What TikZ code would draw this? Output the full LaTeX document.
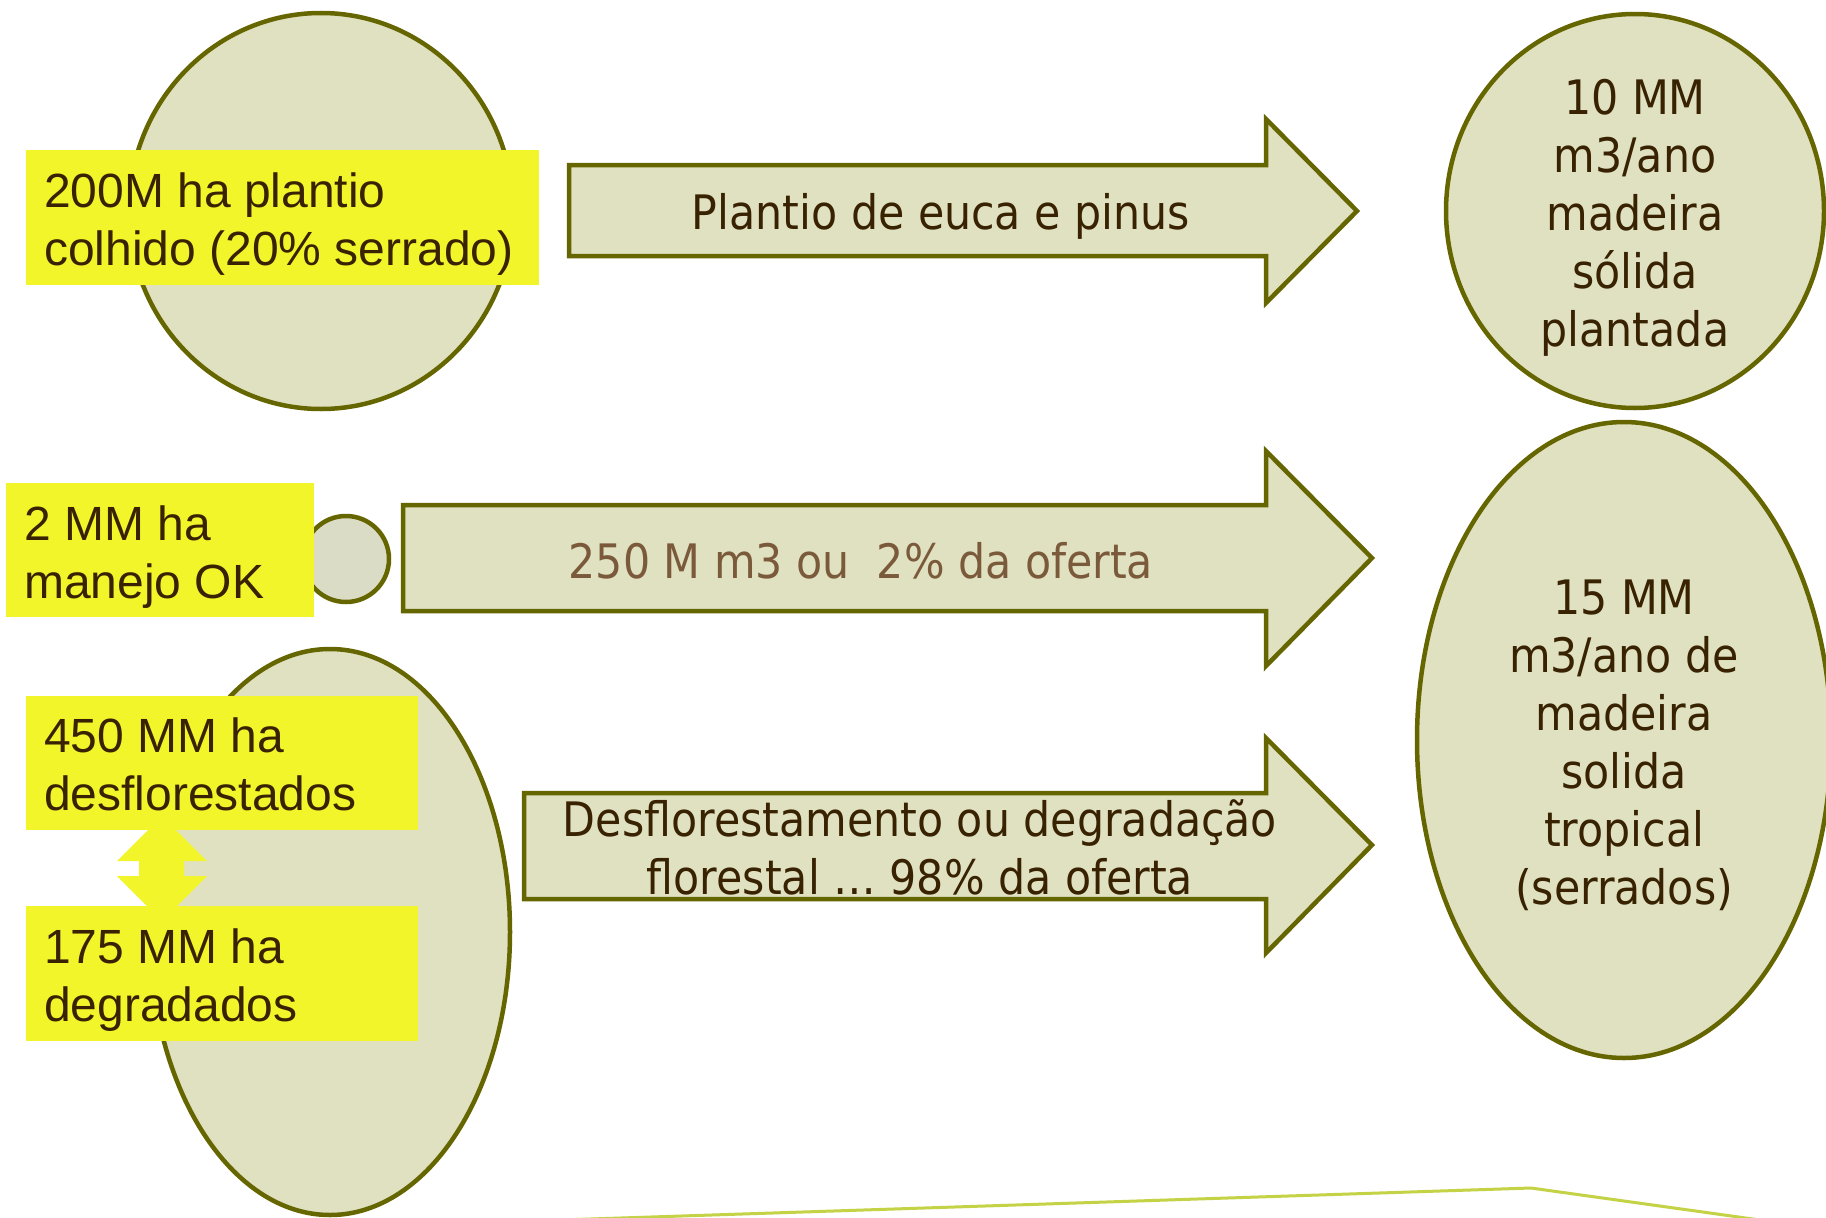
\documentclass[tikz,border=0pt]{standalone}
\usepackage{fontspec}
\setmainfont{Liberation Sans}
\newfontfamily\tahoma{DejaVu Sans Condensed}
\usetikzlibrary{shapes.geometric}
\definecolor{ybox}{RGB}{242,245,42}
\definecolor{efill}{RGB}{223,225,192}
\definecolor{sfill}{RGB}{218,220,198}
\definecolor{olive}{RGB}{102,102,0}
\definecolor{txt}{RGB}{56,34,2}
\definecolor{txtlight}{RGB}{122,90,58}
\definecolor{linegreen}{RGB}{196,210,70}
\tikzset{
  ell/.style={ellipse, draw=olive, fill=efill, line width=4.5pt, inner sep=0pt},
  yellowbox/.style={rectangle, fill=ybox, inner xsep=18pt, inner ysep=0pt},
  boxtext/.style={anchor=west, align=left, text=txt, inner sep=0pt, font=\fontsize{48}{58}\selectfont},
  blockarrow/.style={draw=olive, fill=efill, line width=4.5pt, line join=miter},
  arrowtext/.style={text=txt, align=center, font=\tahoma\fontsize{47.5}{58}\selectfont},
  elltext/.style={text=txt, align=center, font=\tahoma\fontsize{47.5}{58}\selectfont},
}
\begin{document}
\begin{tikzpicture}[x=1pt,y=-1pt]
\useasboundingbox (0,0) rectangle (1826,1218);
\fill[white] (0,0) rectangle (1826,1218);

% top row
\node[ell, minimum width=384pt, minimum height=396pt] (c1) at (321,211) {};
\node[yellowbox, minimum width=513pt, minimum height=135pt] (y1) at (282.5,217.5) {};
\node[boxtext] (y1t) at (44,224) {200M ha plantio\\colhido (20\% serrado)};
\draw[blockarrow] (569,165) -- (1266,165) -- (1266,119) -- (1357,211) -- (1266,303) -- (1266,256) -- (569,256) -- cycle;
\node[arrowtext] (a1) at (941,216) {Plantio de euca e pinus};
\node[ell, minimum width=378pt, minimum height=394pt] (c2) at (1635,211) {};
\node[elltext] (t2) at (1635,218) {10 MM\\m3/ano\\madeira\\sólida\\plantada};

% middle row
\node[ell, fill=sfill, minimum width=86pt, minimum height=86pt] (c3) at (346,559) {};
\node[yellowbox, minimum width=308pt, minimum height=134pt] (y2) at (160,550) {};
\node[boxtext] (y2t) at (24,557) {2 MM ha\\manejo OK};
\draw[blockarrow] (403,505) -- (1266,505) -- (1266,451) -- (1372,558) -- (1266,666) -- (1266,611) -- (403,611) -- cycle;
\node[arrowtext, text=txtlight] (a2) at (861,561) {250 M m3 ou\ \ 2\% da oferta};

% lower row
\node[ell, minimum width=360pt, minimum height=566pt] (c4) at (330,932) {};
\draw[fill=ybox, draw=none] (162,816) -- (207,861) -- (184,861) -- (184,876) -- (207,876) -- (162,921) -- (117,876) -- (139,876) -- (139,861) -- (117,861) -- cycle;
\node[yellowbox, minimum width=392pt, minimum height=134pt] (y3) at (222,763) {};
\node[boxtext] (y3t) at (44,764) {450 MM ha\\desflorestados};
\node[yellowbox, minimum width=392pt, minimum height=135pt] (y4) at (222,973.5) {};
\node[boxtext] (y4t) at (44,980) {175 MM ha\\degradados};
\draw[blockarrow] (524,793) -- (1266,793) -- (1266,738) -- (1372,845) -- (1266,953) -- (1266,899) -- (524,899) -- cycle;
\node[arrowtext] (a3) at (920,847) {Desflorestamento ou degradação\\florestal … 98\% da oferta};
\node[ell, minimum width=414pt, minimum height=636pt] (c5) at (1624,740) {};
\node[elltext] (t5) at (1624,745) {15 MM\\m3/ano de\\madeira\\solida\\tropical\\(serrados)};

% bottom line
\coordinate (l1) at (560,1220);
\coordinate (l2) at (1531,1188);
\coordinate (l3) at (1760,1220);
\draw[linegreen, line width=3pt, line join=round] (l1) -- (l2) -- (l3);
\end{tikzpicture}
\end{document}
